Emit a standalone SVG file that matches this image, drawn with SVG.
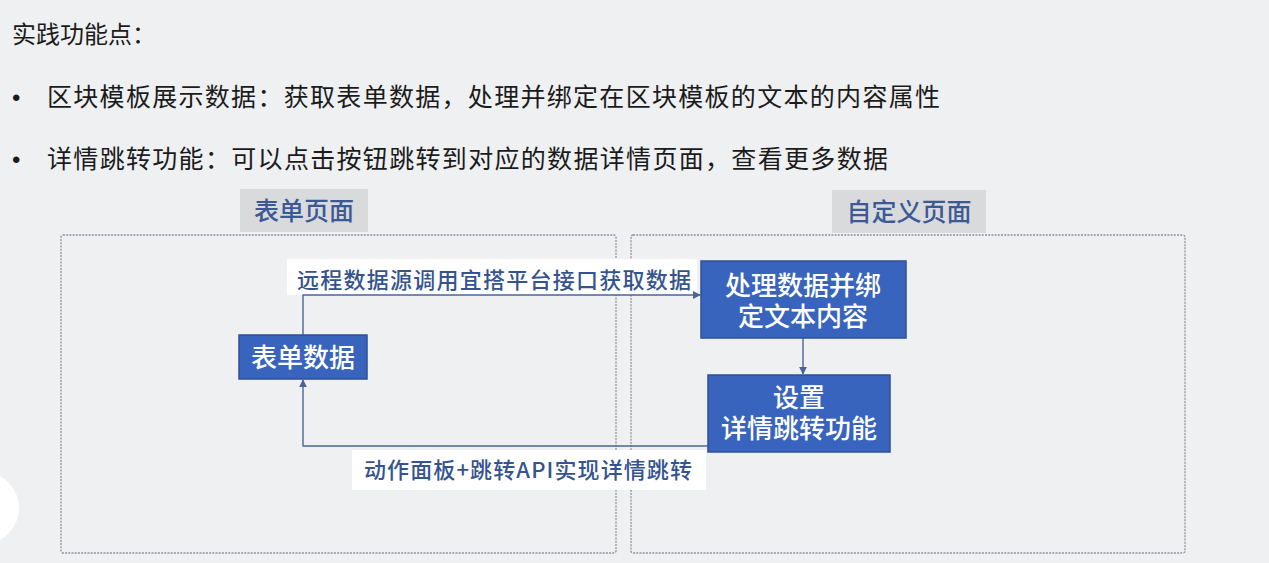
<svg xmlns="http://www.w3.org/2000/svg" width="1269" height="563" viewBox="0 0 1269 563">
  <defs>
    <style>
      .t { font-family: "Noto Sans CJK SC", "Liberation Sans", sans-serif; }
      .head { font-size: 24px; fill: #1b1b1b; }
      .bul { font-size: 25px; fill: #1b1b1b; }
      .dot { font-family: "Liberation Sans", sans-serif; font-size: 24px; fill: #1b1b1b; }
      .tag { fill: #d9dadc; }
      .tagtxt { font-size: 25px; fill: #3b5995; text-anchor: middle; font-weight: 500; }
      .area { fill: none; stroke: #8f939b; stroke-width: 1.3; stroke-dasharray: 2 1.2; }
      .node { fill: #3864be; stroke: #2c4f96; stroke-width: 1.5; }
      .ntxt { font-size: 26px; fill: #ffffff; text-anchor: middle; font-weight: 500; }
      .lbg { fill: #ffffff; }
      .ltxt { font-size: 22px; fill: #35548f; font-weight: 500; }
      .edge { fill: none; stroke: #4c6496; stroke-width: 1.4; }
    </style>
    <marker id="arr" viewBox="0 0 10 10" refX="9" refY="5" markerWidth="8" markerHeight="8" markerUnits="userSpaceOnUse" orient="auto">
      <path d="M0,0 L10,5 L0,10 z" fill="#4c6496"/>
    </marker>
  </defs>

  <rect width="1269" height="563" fill="#eff0f2"/>
  <circle cx="-17" cy="508" r="36" fill="#ffffff"/>

  <g id="header">
    <text class="t head" x="12" y="43">实践功能点：</text>
    <text class="dot" x="12" y="106">•</text>
    <text class="t bul" x="47" y="106" textLength="893" lengthAdjust="spacing">区块模板展示数据：获取表单数据，处理并绑定在区块模板的文本的内容属性</text>
    <text class="dot" x="12" y="168">•</text>
    <text class="t bul" x="47" y="168" textLength="841" lengthAdjust="spacing">详情跳转功能：可以点击按钮跳转到对应的数据详情页面，查看更多数据</text>
  </g>

  <g id="form-page">
    <rect class="tag" x="240" y="189" width="128" height="43"/>
    <text class="t tagtxt" x="304" y="220">表单页面</text>
    <rect class="area" x="61" y="235" width="555" height="318" rx="2"/>
  </g>

  <g id="custom-page">
    <rect class="tag" x="832" y="190" width="154" height="43"/>
    <text class="t tagtxt" x="909" y="221">自定义页面</text>
    <rect class="area" x="631" y="235" width="554" height="318" rx="2"/>
  </g>

  <g id="connectors">
    <rect class="lbg" x="287" y="259" width="410" height="36"/>
    <polyline class="edge" points="303,335 303,295 700,295" marker-end="url(#arr)"/>
    <text class="t ltxt" x="297" y="288" textLength="394" lengthAdjust="spacing">远程数据源调用宜搭平台接口获取数据</text>

    <line class="edge" x1="803" y1="338" x2="803" y2="374" marker-end="url(#arr)"/>

    <polyline class="edge" points="708,446 303,446 303,380" marker-end="url(#arr)"/>
    <rect class="lbg" x="352" y="450" width="354" height="40"/>
    <text class="t ltxt" x="364" y="478" textLength="328" lengthAdjust="spacing">动作面板+跳转API实现详情跳转</text>
  </g>

  <g id="node-form-data">
    <rect class="node" x="239" y="335" width="128" height="44"/>
    <text class="t ntxt" x="303" y="367">表单数据</text>
  </g>

  <g id="node-process">
    <rect class="node" x="701" y="261" width="205" height="77"/>
    <text class="t ntxt"><tspan x="803" y="295">处理数据并绑</tspan><tspan x="803" y="326">定文本内容</tspan></text>
  </g>

  <g id="node-detail">
    <rect class="node" x="708" y="375" width="182" height="77"/>
    <text class="t ntxt"><tspan x="799" y="407">设置</tspan><tspan x="799" y="438">详情跳转功能</tspan></text>
  </g>
</svg>
